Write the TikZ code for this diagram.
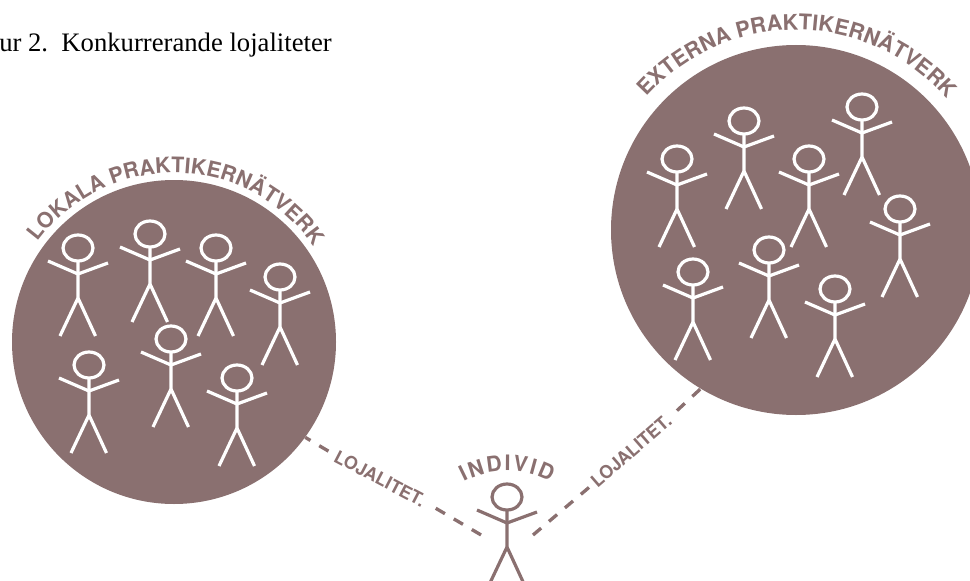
\documentclass[tikz,border=0pt]{standalone}
\usepackage{fontspec}
\setmainfont{Liberation Serif}
\newfontfamily\arcfont{TeX Gyre Heros Bold}
\usetikzlibrary{decorations.text}
\definecolor{mauve}{HTML}{8A7070}
\tikzset{
  disc/.style={circle,fill=mauve,inner sep=0pt,minimum size=#1},
  lojal/.style={inner sep=0pt,text=mauve,font=\arcfont\fontsize{13.4}{15}\selectfont},
  dashline/.style={draw=mauve,line width=2.5pt,dash pattern=on 8pt off 7.7pt},
  arctxt/.style 2 args={decorate,decoration={text along path,text align=center,
     text={|\arcfont\fontsize{#1}{18}\selectfont\color{mauve}|#2}}},
  indiv/.style={text=mauve,inner sep=0pt,anchor=base,font=\arcfont\fontsize{16}{18}\selectfont}
}
\newcommand{\stickfig}[3]{%
  \begin{scope}[shift={(#1,#2)},draw=#3,line width=2.4pt,line cap=butt]
    \draw (0,0) ellipse[x radius=15,y radius=13];
    \draw (0,13) -- (0,50) -- (-18,88) (0,50) -- (17.5,88);
    \draw (-30,13) -- (0,26) -- (30,15);
  \end{scope}}
\begin{document}
\begin{tikzpicture}[x=0.75pt,y=-0.75pt]
\useasboundingbox (0,0) rectangle (970,581);
\clip (0,0) rectangle (970,581);
\node[disc=243pt] (lokala) at (174,342) {};
\node[disc=277.5pt] (externa) at (796,230) {};
\node[anchor=base east,inner sep=0pt,font=\fontsize{20}{24}\selectfont] (title) at (332,52) {ur 2.\ \ Konkurrerande lojaliteter};
\foreach \x/\y in {78/248,150/234,216/248,280/277,89/365,171/339,237/378,
                   677/159,744/121,809/159,862/107,900/209,693/272,769/250,835/289}
  {\stickfig{\x}{\y}{white}}
\stickfig{507}{497}{mauve}
% arc labels
\begin{scope}[shift={(174,342)},x=0.75pt,y=0.75pt]
  \path[arctxt={16}{LOKALA PRAKTIKERNÄTVERK}] (165:169) arc[start angle=165,end angle=13,radius=169];
\end{scope}
\begin{scope}[shift={(796,230)},x=0.75pt,y=0.75pt]
  \path[arctxt={16.2}{EXTERNA PRAKTIKERNÄTVERK}] (160:200) arc[start angle=160,end angle=19,radius=200];
\end{scope}
\begin{scope}[shift={(507,564)},x=0.75pt,y=0.75pt]
  \foreach \l/\a [count=\i] in {I/115.9,N/108.1,D/97.4,I/89.6,V/82.2,I/74.7,D/67}
    \node[indiv,rotate=\a-90] (ind\i) at (\a:93) {\l};
\end{scope}
% connectors
\node[lojal,rotate=-27.5] (lojl) at (380,478.5) {LOJALITET.};
\node[lojal,rotate=41] (lojr) at (631,451) {LOJALITET.};
\coordinate (indl) at (482,535.5);
\coordinate (indr) at (533,535);
\draw[dashline,dash phase=3.5pt] (lokala.-36) -- (lojl.west);
\draw[dashline,dash phase=9pt,shorten <=3pt] (lojl.east) -- (indl);
\draw[dashline] (indr) -- (lojr.west);
\draw[dashline,dash phase=9pt,shorten <=1.5pt] (lojr.east) -- (externa.239.5);
\end{tikzpicture}
\end{document}
